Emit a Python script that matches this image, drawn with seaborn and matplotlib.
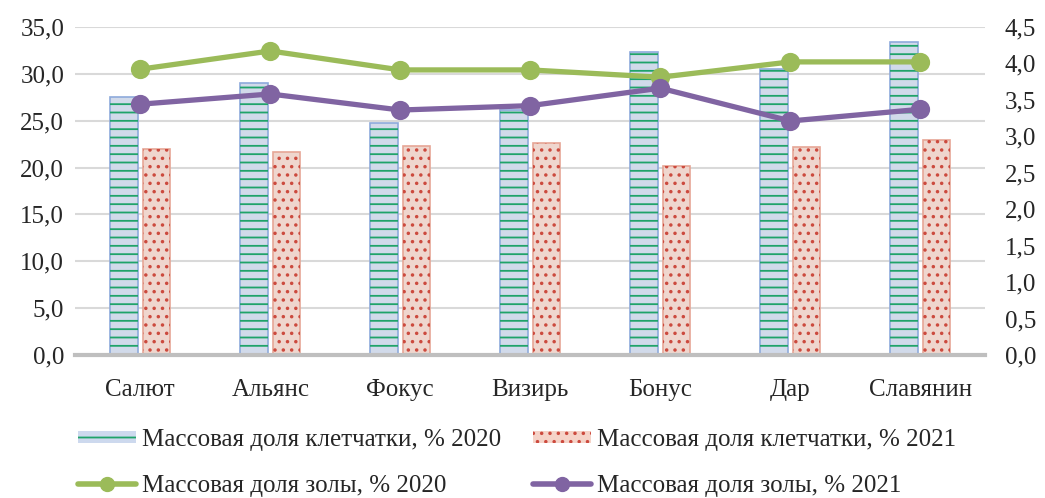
import numpy as np
import pandas as pd
import seaborn as sns
import matplotlib.pyplot as plt
from matplotlib.patches import Patch
from matplotlib.lines import Line2D

sorts = ['Салют', 'Альянс', 'Фокус', 'Визирь', 'Бонус', 'Дар', 'Славянин']
fiber_2020 = [27.5, 29.0, 24.8, 26.1, 32.3, 30.5, 33.4]
fiber_2021 = [22.0, 21.7, 22.3, 22.6, 20.2, 22.2, 22.9]
ash_2020 = [3.92, 4.17, 3.91, 3.91, 3.81, 4.02, 4.02]
ash_2021 = [3.44, 3.58, 3.36, 3.42, 3.66, 3.21, 3.37]

lab_f20 = 'Массовая доля клетчатки, % 2020'
lab_f21 = 'Массовая доля клетчатки, % 2021'
lab_a20 = 'Массовая доля золы, % 2020'
lab_a21 = 'Массовая доля золы, % 2021'

sns.set_style('white')
plt.rcParams['font.family'] = ['Liberation Serif', 'DejaVu Serif']
plt.rcParams['hatch.linewidth'] = 1.3

fib = pd.DataFrame({'sort': sorts * 2,
                    'val': fiber_2020 + fiber_2021,
                    'year': ['2020'] * 7 + ['2021'] * 7})
ash = pd.DataFrame({'sort': sorts * 2,
                    'val': ash_2020 + ash_2021,
                    'year': ['2020'] * 7 + ['2021'] * 7})

face = {'2020': '#cdd9ee', '2021': '#f5d3c8'}
border = {'2020': '#8eaadb', '2021': '#e6a696'}
hatch = {'2020': ('--', '#1fa36a'), '2021': ('..', '#cc4a3e')}

fig = plt.figure(figsize=(10.45, 4.98), dpi=100)
ax = fig.add_axes([0.072, 0.287, 0.871, 0.659])
n = len(sorts)

# base bars with border
sns.barplot(data=fib, x='sort', y='val', hue='year', ax=ax,
            palette=[face['2020'], face['2021']], width=0.5, gap=0.15,
            legend=False, errorbar=None)
for i, bar in enumerate(ax.patches[:2 * n]):
    yr = '2020' if i < n else '2021'
    bar.set_edgecolor(border[yr])
    bar.set_linewidth(1.2)
# hatch layer
k = len(ax.patches)
sns.barplot(data=fib, x='sort', y='val', hue='year', ax=ax,
            palette=[face['2020'], face['2021']], width=0.5, gap=0.15,
            legend=False, errorbar=None)
for i, bar in enumerate(ax.patches[k:k + 2 * n]):
    yr = '2020' if i < n else '2021'
    h, c = hatch[yr]
    bar.set_facecolor('none')
    bar.set_hatch(h)
    bar.set_edgecolor(c)
    bar.set_linewidth(0)

ax.set_ylim(0, 35)
ax.set_yticks(np.arange(0, 35.1, 5))
ax.set_yticklabels([f'{v:.1f}'.replace('.', ',') for v in np.arange(0, 35.1, 5)])
ax.yaxis.grid(True, color='#d9d9d9', linewidth=1.5)
ax.set_axisbelow(True)
ax.set_xlabel('')
ax.set_ylabel('')
for s in ['top', 'right', 'left']:
    ax.spines[s].set_visible(False)
ax.spines['bottom'].set_color('#bfbfbf')
ax.spines['bottom'].set_linewidth(3)
ax.tick_params(axis='both', length=0, labelsize=18)
ax.tick_params(axis='x', pad=17)
ax.tick_params(axis='y', pad=8)
ax.set_xlim(-0.5, n - 0.5)

ax2 = ax.twinx()
sns.pointplot(data=ash, x='sort', y='val', hue='year', ax=ax2,
              palette=['#9bbb59', '#8064a2'], markers='o', linestyles='-',
              markersize=11, linewidth=3.8, legend=False, errorbar=None)
ax2.set_ylim(0, 4.5)
ax2.set_yticks(np.arange(0, 4.51, 0.5))
ax2.set_yticklabels([f'{v:.1f}'.replace('.', ',') for v in np.arange(0, 4.51, 0.5)])
ax2.set_ylabel('')
ax2.set_xlabel('')
for s in ['top', 'right', 'left', 'bottom']:
    ax2.spines[s].set_visible(False)
ax2.tick_params(axis='y', length=0, labelsize=18, pad=14)
ax2.set_xlim(-0.5, n - 0.5)

handles = [
    Patch(facecolor=face['2020'], edgecolor='#1fa36a', hatch='--', linewidth=0, label=lab_f20),
    Line2D([], [], color='#9bbb59', lw=4, marker='o', markersize=10, label=lab_a20),
    Patch(facecolor=face['2021'], edgecolor='#cc4a3e', hatch='..', linewidth=0, label=lab_f21),
    Line2D([], [], color='#8064a2', lw=4, marker='o', markersize=10, label=lab_a21),
]
fig.legend(handles=handles, loc='upper left', bbox_to_anchor=(78 / 1045, 1 - 429 / 498),
           ncol=2, frameon=False, fontsize=18, handlelength=2.3, handleheight=0.35,
           columnspacing=1.3, labelspacing=0.95, handletextpad=0.25,
           borderpad=0, borderaxespad=0)

fig.savefig('out.png', dpi=100)
